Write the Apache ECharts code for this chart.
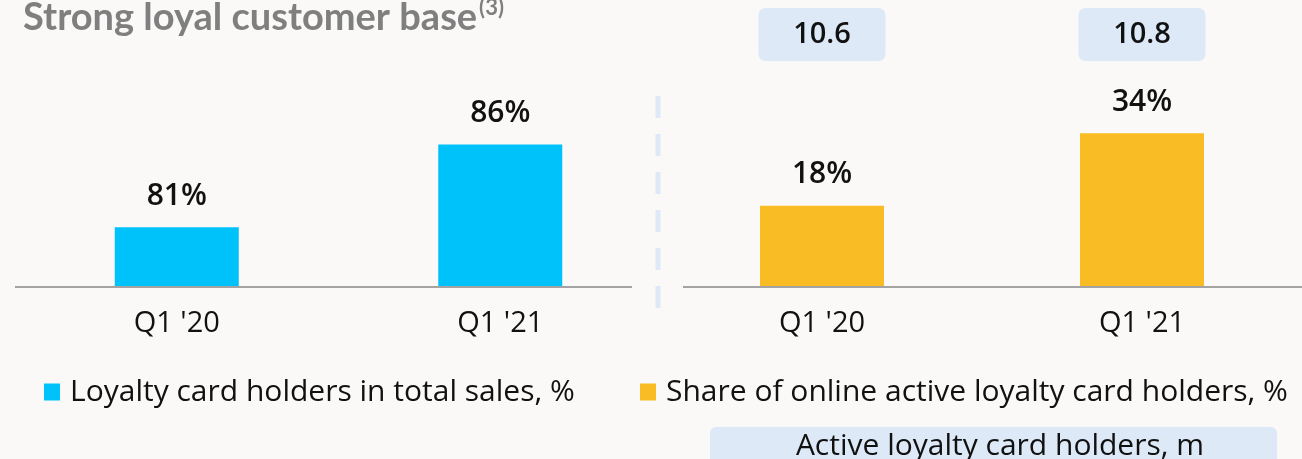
<!DOCTYPE html>
<html>
<head>
<meta charset="utf-8">
<script src="https://cdn.jsdelivr.net/npm/echarts@6/dist/echarts.min.js"></script>
<style>
  html, body { margin: 0; padding: 0; background: #faf9f7; }
  #chart { width: 1302px; height: 459px; }
</style>
</head>
<body>
<div id="chart"></div>
<script>
// Quarters shown in both panels
const categories = ["Q1 '20", "Q1 '21"];
// Loyalty card holders in total sales, %
const loyaltySalesShare = [81, 86];
// Share of online active loyalty card holders, %
const onlineActiveShare = [18, 34];
// Active loyalty card holders, m
const activeHoldersM = [10.6, 10.8];

const seriesNames = [
  'Loyalty card holders in total sales, %',
  'Share of online active loyalty card holders, %'
];

const FONT = '"Open Sans", "Noto Sans", sans-serif';
const HEAD_FONT = 'Lato, "Noto Sans", sans-serif';
const INK = '#111111';
const CYAN = '#00c2fa';
const AMBER = '#f9bc24';
const PALE = '#dde9f6';

const chart = echarts.init(document.getElementById('chart'), null, { renderer: 'canvas' });

const categoryAxis = (gridIndex) => ({
  type: 'category',
  gridIndex,
  data: categories,
  axisLine: { show: false },
  axisTick: { show: false },
  axisLabel: { color: INK, fontSize: 29, fontWeight: 500, fontFamily: FONT, margin: 22 }
});

const legendText = { fontSize: 30, fontWeight: 500, color: INK, fontFamily: FONT, padding: [0, 0, 0, 5] };

const valueLabel = {
  show: true, position: 'top', distance: 16,
  formatter: '{c}%', color: INK, fontSize: 30, fontWeight: 600, fontFamily: FONT
};

chart.setOption({
  backgroundColor: '#faf9f7',
  textStyle: { fontFamily: FONT },
  title: {
    text: '{a|Strong loyal customer base}{b|(3)}',
    left: 18,
    top: -8,
    textStyle: {
      rich: {
        a: { fontSize: 38, fontWeight: 'bold', color: '#7f7f7f', fontFamily: HEAD_FONT },
        b: { fontSize: 22, fontWeight: 'bold', color: '#7f7f7f', fontFamily: HEAD_FONT, padding: [0, 0, 20, 2] }
      }
    }
  },
  legend: [
    {
      data: [seriesNames[0]],
      left: 44, top: 377, padding: 0,
      icon: 'rect', itemWidth: 16, itemHeight: 17,
      selectedMode: false,
      textStyle: legendText
    },
    {
      data: [seriesNames[1]],
      left: 640, top: 377, padding: 0,
      icon: 'rect', itemWidth: 16, itemHeight: 17,
      selectedMode: false,
      textStyle: legendText
    }
  ],
  grid: [
    { left: 15, width: 647, top: 70, height: 217 },
    { left: 662, width: 647, top: 70, height: 217 }
  ],
  xAxis: [
    categoryAxis(0),
    categoryAxis(1),
    {
      type: 'category',
      gridIndex: 1,
      position: 'top',
      data: categories,
      axisLine: { show: false },
      axisTick: { show: false },
      axisLabel: {
        margin: 9,
        formatter: (v, i) => activeHoldersM[i].toFixed(1),
        color: INK,
        fontSize: 29,
        fontWeight: 600,
        fontFamily: FONT,
        backgroundColor: PALE,
        borderRadius: 7,
        width: 127,
        height: 53,
        lineHeight: 53,
        align: 'center'
      }
    }
  ],
  yAxis: [
    { type: 'value', gridIndex: 0, min: 77.4, max: 90.5, show: false },
    { type: 'value', gridIndex: 1, min: 0, max: 48, show: false }
  ],
  series: [
    {
      name: seriesNames[0],
      type: 'bar',
      xAxisIndex: 0, yAxisIndex: 0,
      barWidth: 124,
      itemStyle: { color: CYAN },
      data: loyaltySalesShare,
      label: valueLabel
    },
    {
      name: seriesNames[1],
      type: 'bar',
      xAxisIndex: 1, yAxisIndex: 1,
      barWidth: 124,
      itemStyle: { color: AMBER },
      data: onlineActiveShare,
      label: valueLabel
    }
  ],
  graphic: [
    // baselines of the two panels
    { type: 'line', shape: { x1: 15, y1: 287, x2: 632, y2: 287 }, style: { stroke: '#a3a3a3', lineWidth: 2 }, z: 5 },
    { type: 'line', shape: { x1: 683, y1: 287, x2: 1302, y2: 287 }, style: { stroke: '#a3a3a3', lineWidth: 2 }, z: 5 },
    // dashed separator between panels
    { type: 'line', shape: { x1: 658, y1: 96, x2: 658, y2: 309 }, style: { stroke: PALE, lineWidth: 5, lineDash: [22, 16] } },
    // caption box for the value boxes
    {
      type: 'group', left: 710, top: 427,
      children: [
        { type: 'rect', shape: { x: 0, y: 0, width: 567, height: 40, r: [6, 6, 0, 0] }, style: { fill: PALE } },
        {
          type: 'text', x: 290, y: 19,
          style: { text: 'Active loyalty card holders, m', fill: INK, font: '500 30px ' + FONT, align: 'center', verticalAlign: 'middle' }
        }
      ]
    }
  ]
});
</script>
</body>
</html>
